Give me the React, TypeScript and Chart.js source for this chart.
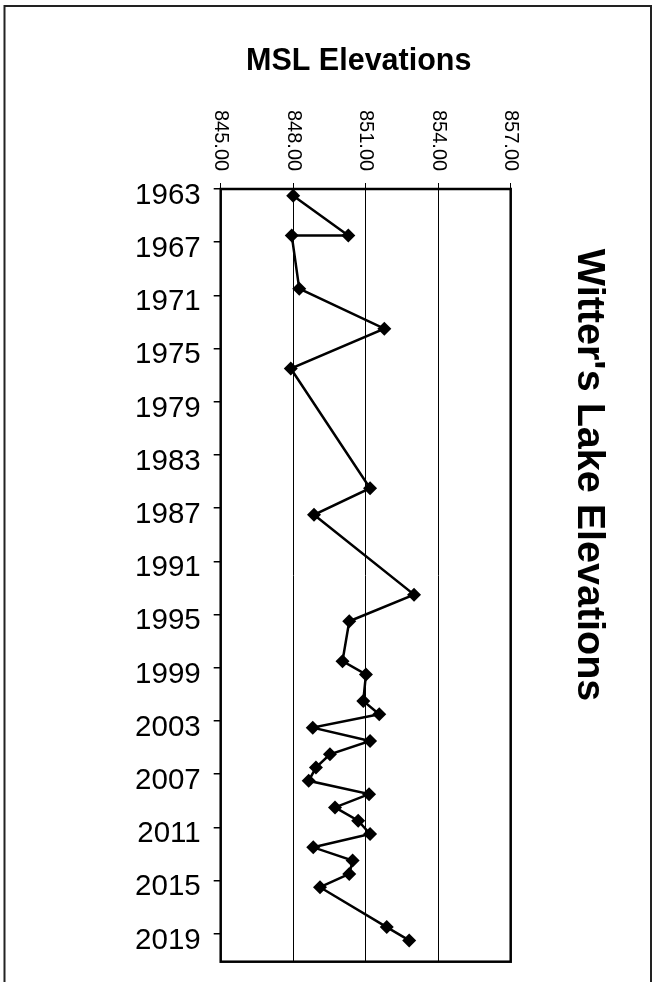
import React, { useEffect, useRef } from "react";
import { Chart, registerables } from "chart.js";

Chart.register(...registerables);

// ---- Data ----
const YEARS: number[] = [
  1963, 1966, 1966, 1970, 1973, 1976, 1985, 1987, 1993, 1995, 1998, 1999,
  2001, 2002, 2003, 2004, 2005, 2006, 2007, 2008, 2009, 2010, 2011, 2012,
  2013, 2014, 2015, 2018, 2019,
];
const ELEVATIONS: number[] = [
  848.0, 850.28, 847.94, 848.25, 851.77, 847.9, 851.18, 848.86, 853.0, 850.32,
  850.04, 851.01, 850.9, 851.56, 848.81, 851.18, 849.52, 848.94, 848.64,
  851.14, 849.73, 850.69, 851.18, 848.83, 850.46, 850.32, 849.11, 851.87,
  852.8,
];
const YEAR_TICKS: number[] = [
  1963, 1967, 1971, 1975, 1979, 1983, 1987, 1991, 1995, 1999, 2003, 2007,
  2011, 2015, 2019,
];
const ELEV_TICKS: number[] = [845, 848, 851, 854, 857];
const TITLE = "MSL Elevations";
const SIDE_TITLE = "Witter's Lake Elevations";

// points sit in the middle of their year slot (date axis style)
const MID_YEAR = 0.5;

const FONT = '"Liberation Sans", Arial, sans-serif';

export default function App() {
  const ref = useRef<HTMLCanvasElement | null>(null);

  useEffect(() => {
    if (!ref.current) return;
    const points = YEARS.map((y, i) => ({ x: ELEVATIONS[i], y: y + MID_YEAR }));

    const decor = {
      id: "decor",
      beforeDatasetsDraw(chart: any) {
        const { ctx, chartArea: a } = chart;
        ctx.save();
        ctx.strokeStyle = "#000";
        ctx.lineWidth = 2.5;
        ctx.strokeRect(a.left, a.top, a.right - a.left, a.bottom - a.top);
        ctx.restore();
      },
      afterDraw(chart: any) {
        const { ctx } = chart;
        const xs = chart.scales.x;
        ctx.save();
        // outer frame
        ctx.strokeStyle = "#222";
        ctx.lineWidth = 2;
        ctx.beginPath();
        ctx.moveTo(4.5, 982);
        ctx.lineTo(4.5, 6);
        ctx.lineTo(651, 6);
        ctx.lineTo(651, 982);
        ctx.stroke();

        ctx.fillStyle = "#000";
        // top title
        ctx.font = `bold 30.5px ${FONT}`;
        ctx.textAlign = "center";
        ctx.textBaseline = "alphabetic";
        ctx.fillText(TITLE, 358.7, 69.5);

        // elevation tick labels, rotated clockwise
        ctx.font = `20px ${FONT}`;
        ctx.textAlign = "left";
        ctx.textBaseline = "middle";
        ELEV_TICKS.forEach((v) => {
          ctx.save();
          ctx.translate(xs.getPixelForValue(v), 110);
          ctx.rotate(Math.PI / 2);
          ctx.fillText(v.toFixed(2), 0, 0);
          ctx.restore();
        });

        // side title, rotated clockwise
        ctx.save();
        ctx.translate(578, 475);
        ctx.rotate(Math.PI / 2);
        ctx.font = `bold 39.5px ${FONT}`;
        ctx.textAlign = "center";
        ctx.textBaseline = "alphabetic";
        ctx.fillText(SIDE_TITLE, 0, 0);
        ctx.restore();

        ctx.restore();
      },
    };

    const chart = new Chart(ref.current, {
      type: "scatter",
      data: {
        datasets: [
          {
            data: points,
            showLine: true,
            borderColor: "#000",
            borderWidth: 2.5,
            pointStyle: "rectRot",
            pointRadius: 7,
            pointBackgroundColor: "#000",
            pointBorderColor: "#000",
            pointBorderWidth: 0,
          },
        ],
      },
      options: {
        responsive: false,
        animation: false,
        devicePixelRatio: 1,
        layout: { padding: { left: 0, top: 0, right: 147.3, bottom: 20.3 } },
        plugins: {
          legend: { display: false },
          tooltip: { enabled: false },
          title: { display: false },
        },
        scales: {
          x: {
            type: "linear",
            position: "top",
            min: 845,
            max: 857,
            afterBuildTicks: (s: any) => {
              s.ticks = ELEV_TICKS.map((v) => ({ value: v }));
            },
            ticks: { display: false },
            grid: {
              color: "#000",
              lineWidth: 1,
              drawTicks: true,
              tickLength: 6,
            },
            border: { display: false },
            afterFit: (s: any) => {
              s.height = 189;
              s.paddingLeft = 0;
              s.paddingRight = 0;
            },
          },
          y: {
            type: "linear",
            reverse: true,
            min: 1963,
            max: 2021.1,
            afterBuildTicks: (s: any) => {
              s.ticks = YEAR_TICKS.map((v) => ({ value: v }));
            },
            ticks: {
              font: { family: FONT, size: 29.5 },
              color: "#000",
              padding: 13,
              labelOffset: 6.65,
              callback: (v: any) => String(v),
            },
            grid: {
              drawOnChartArea: false,
              drawTicks: true,
              tickLength: 7,
              color: "#000",
              lineWidth: 1.5,
            },
            border: { display: false },
            afterFit: (s: any) => {
              s.width = 220.7;
              s.paddingTop = 0;
              s.paddingBottom = 0;
            },
          },
        },
      } as any,
      plugins: [decor],
    });
    return () => chart.destroy();
  }, []);

  return (
    <div
      style={{
        position: "absolute",
        left: 0,
        top: 0,
        width: 658,
        height: 982,
        background: "#fff",
      }}
    >
      <canvas ref={ref} width={658} height={982} style={{ display: "block" }} />
    </div>
  );
}
